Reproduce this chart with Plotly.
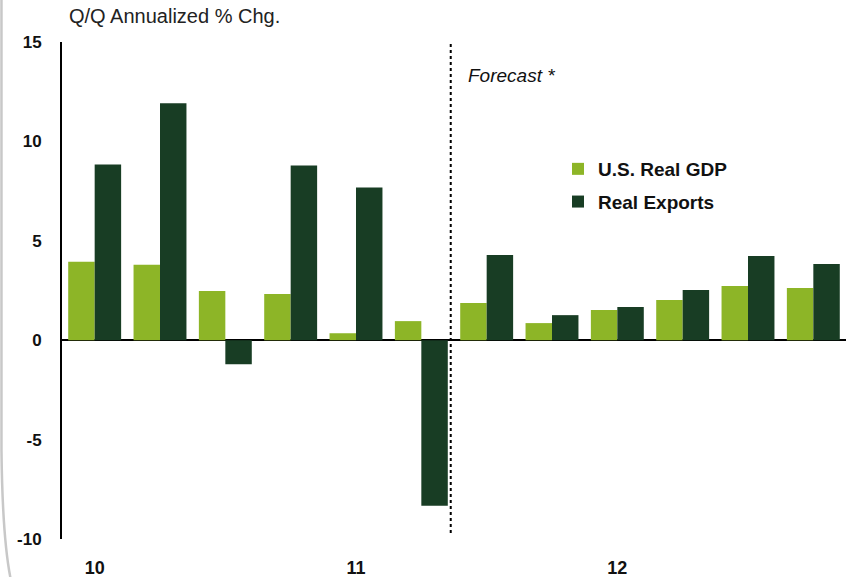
import plotly.graph_objects as go

quarters = ["10Q1", "10Q2", "10Q3", "10Q4", "11Q1", "11Q2", "11Q3", "11Q4",
            "12Q1", "12Q2", "12Q3", "12Q4"]
gdp = [3.94, 3.79, 2.47, 2.32, 0.35, 0.96, 1.87, 0.86, 1.52, 2.02, 2.73, 2.63]
exports = [8.84, 11.92, -1.21, 8.79, 7.68, -8.33, 4.29, 1.26, 1.67, 2.52, 4.24, 3.83]
year_ticks = ["10Q1", "11Q1", "12Q1"]
year_labels = ["10", "11", "12"]
y_ticks = [-10, -5, 0, 5, 10, 15]
y_labels = ["-10", "-5", "0", "5", "10", "15"]
forecast_start = 5.45  # between 11Q2 and 11Q3 categories (index units)

FONT = "Liberation Sans, Arial, sans-serif"
GDP_COLOR = "#8DB527"
EXP_COLOR = "#183D24"

W, H = 850, 577
ML, MR, MT, MB = 62, 4, 42, 38
PW, PH = W - ML - MR, H - MT - MB


def px_x(px):
    return (px - ML) / PW


def px_y(py):
    return (H - MB - py) / PH


fig = go.Figure()
fig.add_trace(go.Bar(x=quarters, y=gdp, name="U.S. Real GDP",
                     marker=dict(color=GDP_COLOR, line=dict(width=0)),
                     legendgroup="a"))
fig.add_trace(go.Bar(x=quarters, y=exports, name="Real Exports",
                     marker=dict(color=EXP_COLOR, line=dict(width=0)),
                     legendgroup="b"))

fig.update_layout(
    width=W, height=H,
    margin=dict(l=ML, r=MR, t=MT, b=MB, autoexpand=False),
    paper_bgcolor="white", plot_bgcolor="white",
    barmode="group", bargap=0.19, bargroupgap=0,
    font=dict(family=FONT, color="#111"),
    legend=dict(x=px_x(558), y=px_y(150), xanchor="left", yanchor="top",
                font=dict(size=19, family=FONT, weight="bold", color="#111"),
                tracegroupgap=5, bgcolor="rgba(0,0,0,0)"),
    showlegend=True,
)

fig.update_xaxes(
    type="category", categoryorder="array", categoryarray=quarters,
    range=[-0.5, len(quarters) - 0.5], automargin=False,
    tickmode="array", tickvals=year_ticks, ticktext=year_labels,
    tickfont=dict(size=18, family=FONT, weight="bold", color="#111"),
    ticks="", ticklabelstandoff=16, showline=False, showgrid=False,
    zeroline=False,
)
fig.update_yaxes(
    range=[-10, 15], tickmode="array", tickvals=y_ticks, ticktext=y_labels,
    automargin=False,
    tickfont=dict(size=17, family=FONT, weight="bold", color="#111"),
    ticks="", ticklabelstandoff=15,
    showline=True, linecolor="black", linewidth=2,
    showgrid=False, zeroline=True, zerolinecolor="black", zerolinewidth=2,
)

# forecast divider
fig.add_shape(type="line", xref="x", yref="paper",
              x0=forecast_start, x1=forecast_start, y0=px_y(533), y1=1,
              line=dict(color="black", width=2, dash="dot"))

# left frame edge (decorative)
path = "M {:.4f},{:.4f} L {:.4f},{:.4f} Q {:.4f},{:.4f} {:.4f},{:.4f}".format(
    px_x(1.5), px_y(-5), px_x(1.5), px_y(450), px_x(2.5), px_y(545),
    px_x(12), px_y(585))
fig.add_shape(type="path", xref="paper", yref="paper", path=path,
              line=dict(color="#c8c8c8", width=2.5))

fig.add_annotation(text="Q/Q Annualized % Chg.", xref="paper", yref="paper",
                   x=px_x(67), y=px_y(16), xanchor="left", yanchor="middle",
                   showarrow=False,
                   font=dict(size=20, family=FONT, color="#222"))
fig.add_annotation(text="<i>Forecast *</i>", xref="paper", yref="paper",
                   x=px_x(466), y=px_y(75), xanchor="left", yanchor="middle",
                   showarrow=False,
                   font=dict(size=19, family=FONT, color="#111"))

fig.write_html("out.html",
               config={"displayModeBar": False},
               post_script="document.body.style.margin='0';"
                           "document.body.style.overflow='hidden';")
